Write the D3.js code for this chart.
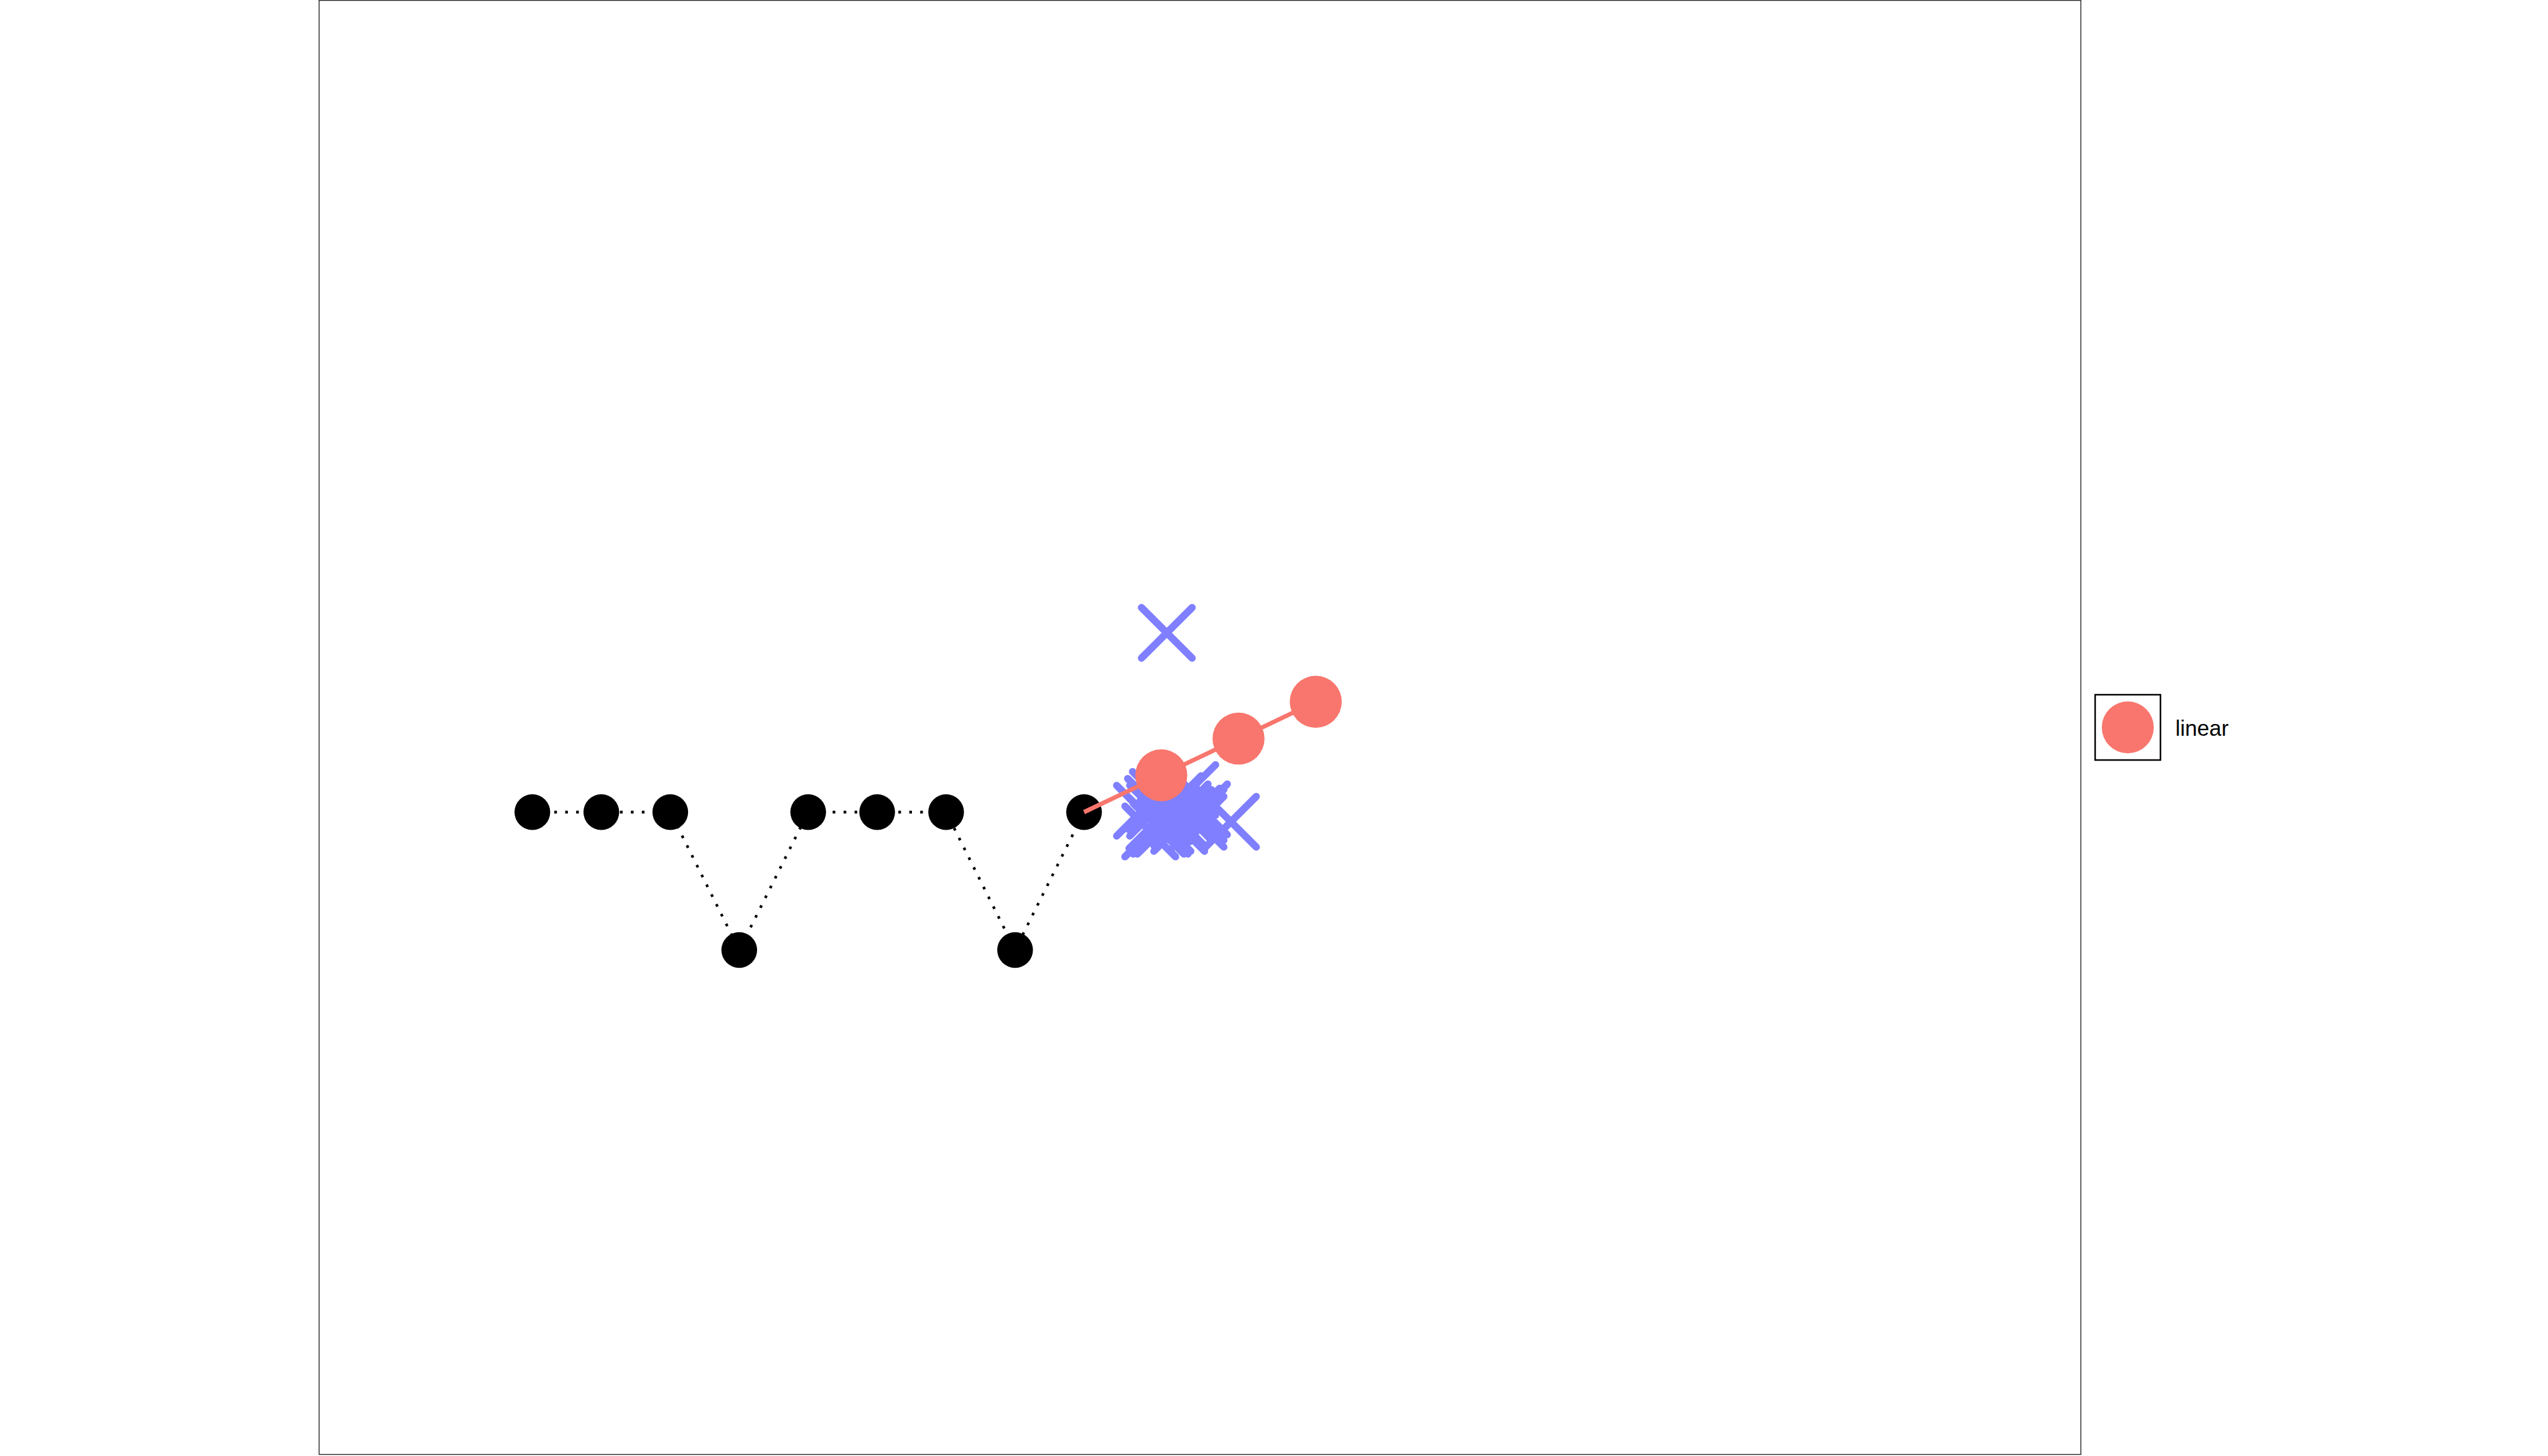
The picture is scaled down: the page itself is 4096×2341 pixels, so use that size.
<!DOCTYPE html>
<html>
<head>
<meta charset="utf-8">
<script src="https://cdn.jsdelivr.net/npm/d3@7"></script>
<style>
html,body{margin:0;padding:0;background:#fff;}
svg{display:block;}
</style>
</head>
<body>
<script>
// ---- data ----
const blackX = [1, 2, 3, 4, 5, 6, 7, 8, 9];
const blackY = [0, 0, 0, -1, 0, 0, 0, -1, 0];

const redX = [9, 10.12, 11.24, 12.36];
const redY = [0, 0.267, 0.533, 0.80];

const blueX = [10.20, 11.13, 9.84, 9.96, 10.54, 10.71, 10.07, 10.00, 10.03, 10.02, 10.08, 10.14,
               10.18, 10.26, 10.26, 10.66, 10.60, 10.66, 10.27, 10.38, 10.17, 10.43, 10.33, 10.38, 10.48];
const blueY = [1.30, -0.07, 0.01, -0.14, 0.16, 0.02, 0.11, 0.06, 0.01, -0.08, -0.12, -0.12,
               -0.10, 0.04, 0.00, -0.07, -0.01, -0.02, -0.03, -0.06, -0.03, 0.02, 0.08, -0.10, -0.02];

const legendLabels = ["linear"];

// ---- layout ----
const W = 4096, H = 2341;
const panel = {x0: 513, x1: 3345, y0: 0.6, y1: 2338.5};

const svg = d3.select("body").append("svg").attr("width", W).attr("height", H);

const x = d3.scaleLinear().domain([-2.092, 23.454]).range([panel.x0, panel.x1]);
const y = d3.scaleLinear().domain([5.889, -4.660]).range([0, 2339]);

const RED = "#F8766D", BLUE = "#7F7FFF";

// panel border
svg.append("rect")
  .attr("x", panel.x0).attr("y", panel.y0)
  .attr("width", panel.x1 - panel.x0).attr("height", panel.y1 - panel.y0)
  .attr("fill", "none").attr("stroke", "#222").attr("stroke-width", 1.4);

const g = svg.append("g");

// black dotted line
const blackPts = blackX.map((d, i) => [d, blackY[i]]);
g.append("path")
  .attr("d", d3.line().x(d => x(d[0])).y(d => y(d[1]))(blackPts))
  .attr("fill", "none").attr("stroke", "#000")
  .attr("stroke-width", 4.3).attr("stroke-dasharray", "4.3,13.3");

g.selectAll("circle.black").data(blackPts).join("circle")
  .attr("class", "black")
  .attr("cx", d => x(d[0])).attr("cy", d => y(d[1])).attr("r", 28.7)
  .attr("fill", "#000");

// blue crosses
const bluePts = blueX.map((d, i) => [d, blueY[i]]);
const hs = 40.7;
g.selectAll("path.cross").data(bluePts).join("path")
  .attr("class", "cross")
  .attr("d", d => {
    const cx = x(d[0]), cy = y(d[1]);
    return `M${cx - hs},${cy - hs}L${cx + hs},${cy + hs}M${cx - hs},${cy + hs}L${cx + hs},${cy - hs}`;
  })
  .attr("fill", "none").attr("stroke", BLUE)
  .attr("stroke-width", 11.7).attr("stroke-linecap", "round");

// red line + circles
const redPts = redX.map((d, i) => [d, redY[i]]);
g.append("path")
  .attr("d", d3.line().x(d => x(d[0])).y(d => y(d[1]))(redPts))
  .attr("fill", "none").attr("stroke", RED).attr("stroke-width", 7);

g.selectAll("circle.red").data(redPts.slice(1)).join("circle")
  .attr("class", "red")
  .attr("cx", d => x(d[0])).attr("cy", d => y(d[1])).attr("r", 41.8)
  .attr("fill", RED);

// legend
const lg = svg.append("g").attr("transform", "translate(3368,1117)");
lg.append("rect").attr("x", 0).attr("y", 0).attr("width", 105).attr("height", 105)
  .attr("fill", "#fff").attr("stroke", "#000").attr("stroke-width", 2.5);
lg.append("circle").attr("cx", 52.5).attr("cy", 52.5).attr("r", 41.8).attr("fill", RED);
lg.append("text").attr("x", 129).attr("y", 66)
  .attr("font-family", "'Liberation Sans', Arial, Helvetica, sans-serif")
  .attr("font-size", 35).attr("fill", "#000")
  .text(legendLabels[0]);
</script>
</body>
</html>
